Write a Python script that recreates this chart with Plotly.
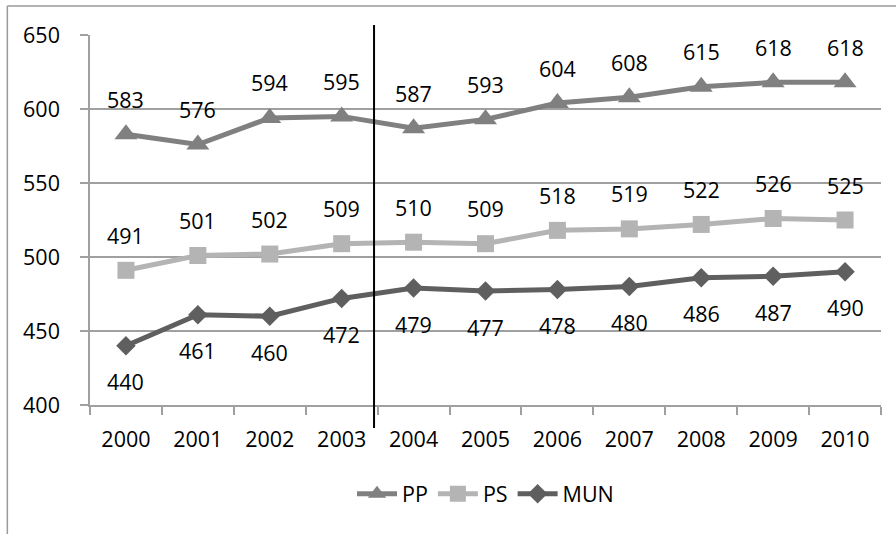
import plotly.graph_objects as go

years = ["2000", "2001", "2002", "2003", "2004", "2005", "2006", "2007", "2008", "2009", "2010"]
pp = [583, 576, 594, 595, 587, 593, 604, 608, 615, 618, 618]
ps = [491, 501, 502, 509, 510, 509, 518, 519, 522, 526, 525]
mun = [440, 461, 460, 472, 479, 477, 478, 480, 486, 487, 490]
y_ticks = [400, 450, 500, 550, 600, 650]

FONT = "Open Sans"
FS = 21.5

fig = go.Figure()
series = [
    ("PP", pp, "#808080", "triangle-up", 20),
    ("PS", ps, "#b4b4b4", "square", 17),
    ("MUN", mun, "#5f5f5f", "diamond", 15),
]
for name, vals, col, sym, ms in series:
    fig.add_trace(go.Scatter(
        x=years, y=vals, name=name, mode="lines+markers",
        line=dict(color=col, width=5),
        marker=dict(symbol=sym, size=ms, color=col),
    ))

annotations = []
for vals, shift in [(pp, 35), (ps, 35), (mun, -36)]:
    for i, yv in enumerate(vals):
        annotations.append(dict(
            x=i, y=yv, xref="x", yref="y", text=str(yv), showarrow=False,
            yshift=shift, font=dict(family=FONT, size=FS, color="#000000"),
        ))

fig.update_layout(
    width=896, height=534,
    margin=dict(l=90, r=15, t=35, b=129),
    paper_bgcolor="#ffffff", plot_bgcolor="#ffffff",
    font=dict(family=FONT, size=FS, color="#000000"),
    annotations=annotations,
    showlegend=True,
    legend=dict(orientation="h", x=0.5, xanchor="center", y=-0.24, yanchor="middle",
                font=dict(family=FONT, size=FS), itemwidth=40, tracegroupgap=0),
    shapes=[
        dict(type="line", xref="x", yref="paper", x0=3.45, x1=3.45, y0=-0.062, y1=1.027,
             line=dict(color="#000000", width=2)),
        dict(type="line", xref="paper", yref="paper", x0=-0.1045, x1=1.1, y0=1.0785, y1=1.0785,
             line=dict(color="#9a9a9a", width=1.5)),
        dict(type="line", xref="paper", yref="paper", x0=-0.1045, x1=-0.1045, y0=-0.5, y1=1.0785,
             line=dict(color="#9a9a9a", width=1.5)),
    ],
)
fig.update_xaxes(
    type="category", range=[-0.5, 10.5], showgrid=False,
    showline=True, linecolor="#a0a0a0", linewidth=1.5,
    ticks="outside", tickson="boundaries", ticklen=8, tickcolor="#a0a0a0", tickwidth=1.5,
    ticklabelstandoff=14,
)
fig.update_yaxes(
    range=[400, 650], tickvals=y_ticks, showgrid=True, gridcolor="#a0a0a0", gridwidth=1.5,
    showline=True, linecolor="#a0a0a0", linewidth=1.5,
    ticks="outside", ticklen=8, tickcolor="#a0a0a0", tickwidth=1.5,
    ticklabelstandoff=16, zeroline=False,
)
fig.write_html("out.html", config={"displayModeBar": False},
               post_script="document.body.style.margin='0';")
